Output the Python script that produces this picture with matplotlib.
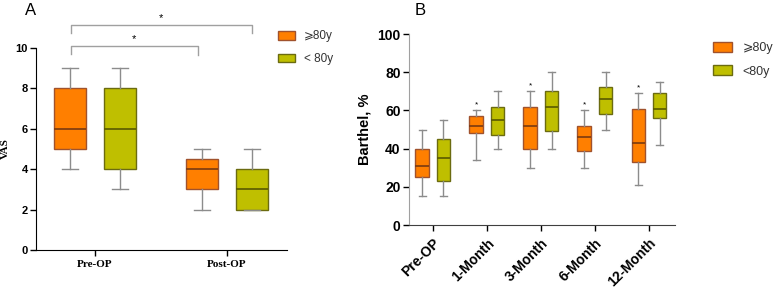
import numpy as np
import matplotlib
matplotlib.use("Agg")
import matplotlib.pyplot as plt
from matplotlib.patches import Patch

plt.rcParams['font.family'] = ['Liberation Sans', 'DejaVu Sans']

# Panel A : VAS (whislo, q1, med, q3, whishi)
vas_groups = ['Pre-OP', 'Post-OP']
vas_old = [[4, 5, 6, 8, 9], [2, 3, 4, 4.5, 5]]
vas_young = [[3, 4, 6, 8, 9], [2, 2, 3, 4, 5]]

# Panel B : Barthel
bar_groups = ['Pre-OP', '1-Month', '3-Month', '6-Month', '12-Month']
bar_old = [[15, 25, 31, 40, 50], [34, 48, 52, 57, 60], [30, 40, 52, 62, 70],
           [30, 39, 46, 52, 60], [21, 33, 43, 61, 69]]
bar_young = [[15, 23, 35, 45, 55], [40, 47, 55, 62, 70], [40, 49, 62, 70, 80],
             [50, 58, 66, 72, 80], [42, 56, 61, 69, 75]]
bar_signif = [False, True, True, True, True]

col_old = '#FF7F00'
col_young = '#BFBF00'
edge_old = '#A0522D'
edge_young = '#6B6B10'


def to_stats(vals):
    out = []
    for v in vals:
        out.append(dict(whislo=v[0], q1=v[1], med=v[2], q3=v[3], whishi=v[4], fliers=[]))
    return out


def boites(ax, vals, pos, w, fill, edge):
    ax.bxp(to_stats(vals), positions=pos, widths=w, patch_artist=True, showfliers=False,
           boxprops=dict(facecolor=fill, edgecolor=edge, linewidth=1.0),
           medianprops=dict(color='#7A3A10' if fill == col_old else '#5A5A00', linewidth=1.2),
           whiskerprops=dict(color='#8C8C8C', linewidth=1.0),
           capprops=dict(color='#8C8C8C', linewidth=1.0))


fig = plt.figure(figsize=(7.79, 2.9), dpi=100)

# ---------- A ----------
ax1 = fig.add_axes([0.0462, 0.1379, 0.3222, 0.6966])
xa = np.arange(len(vas_groups))
boites(ax1, vas_old, xa - 0.19, 0.24, col_old, edge_old)
boites(ax1, vas_young, xa + 0.19, 0.24, col_young, edge_young)
ax1.set_xlim(-0.447, 1.455)
ax1.set_ylim(0, 10)
ax1.set_yticks([0, 2, 4, 6, 8, 10])
ax1.set_yticklabels(['0', '2', '4', '6', '8', '10'], fontsize=8, fontweight='bold')
ax1.set_xticks(xa)
ax1.set_xticklabels(vas_groups, fontsize=8, fontweight='bold', family='Liberation Serif')
ax1.set_ylabel('VAS', fontsize=8, fontweight='bold', family='Liberation Serif')
ax1.yaxis.set_label_coords(-0.105, 0.5)
ax1.spines['top'].set_visible(False)
ax1.spines['right'].set_visible(False)
ax1.tick_params(axis='both', length=4, width=1, pad=2)
ax1.tick_params(axis='x', pad=3)

# crochets de significativité
gris = '#A0A0A0'
x0 = xa[0] - 0.185
ax1.plot([x0, x0, xa[1] - 0.22, xa[1] - 0.22], [9.7, 10.08, 10.08, 9.63], color=gris, lw=1, clip_on=False)
ax1.text((x0 + xa[1] - 0.22) / 2, 10.2, '*', ha='center', va='bottom', fontsize=8, clip_on=False)
ax1.plot([x0, x0, xa[1] + 0.19, xa[1] + 0.19], [10.74, 11.12, 11.12, 10.74], color=gris, lw=1, clip_on=False)
ax1.text((x0 + xa[1] + 0.19) / 2, 11.25, '*', ha='center', va='bottom', fontsize=8, clip_on=False)

hA = [Patch(facecolor=col_old, edgecolor=edge_old, label='⩾80y'),
      Patch(facecolor=col_young, edgecolor=edge_young, label='< 80y')]
fig.legend(handles=hA, loc='upper left', bbox_to_anchor=(0.357, 0.895), frameon=False,
           borderpad=0, borderaxespad=0,
           fontsize=8.5, handlelength=1.4, handleheight=0.75, handletextpad=0.8, labelspacing=0.9,
           labelcolor='#333333')
fig.text(0.032, 0.99, 'A', fontsize=12, ha='left', va='top')

# ---------- B ----------
ax2 = fig.add_axes([0.525, 0.2241, 0.3415, 0.6586])
xb = np.arange(len(bar_groups))
boites(ax2, bar_old, xb - 0.2, 0.25, col_old, edge_old)
boites(ax2, bar_young, xb + 0.195, 0.25, col_young, edge_young)
for i, s in enumerate(bar_signif):
    if s:
        ax2.text(xb[i] - 0.2, bar_old[i][4] + 1.2, '*', ha='center', va='bottom', fontsize=6)
ax2.set_xlim(-0.444, 4.48)
ax2.set_ylim(0, 100)
ax2.set_yticks([0, 20, 40, 60, 80, 100])
ax2.set_yticklabels(['0', '20', '40', '60', '80', '100'], fontsize=10, fontweight='bold')
ax2.set_xticks(xb)
ax2.set_xticklabels(bar_groups, fontsize=10, fontweight='bold', rotation=45, ha='right',
                    rotation_mode='anchor')
ax2.set_ylabel('Barthel, %', fontsize=10.5, fontweight='bold', labelpad=4)
ax2.spines['top'].set_visible(False)
ax2.spines['right'].set_visible(False)
ax2.spines['left'].set_color('#A0A0A0')
ax2.spines['bottom'].set_color('#404040')
ax2.tick_params(axis='both', length=4, width=1, pad=2)
ax2.tick_params(axis='x', pad=4)

hB = [Patch(facecolor=col_old, edgecolor=edge_old, label='⩾80y'),
      Patch(facecolor=col_young, edgecolor=edge_young, label='<80y')]
fig.legend(handles=hB, loc='upper left', bbox_to_anchor=(0.915, 0.855), frameon=False,
           borderpad=0, borderaxespad=0,
           fontsize=9, handlelength=1.55, handleheight=0.8, handletextpad=0.85, labelspacing=0.9,
           labelcolor='#333333')
fig.text(0.532, 0.99, 'B', fontsize=12, ha='left', va='top')

fig.savefig('out.png', dpi=100)
